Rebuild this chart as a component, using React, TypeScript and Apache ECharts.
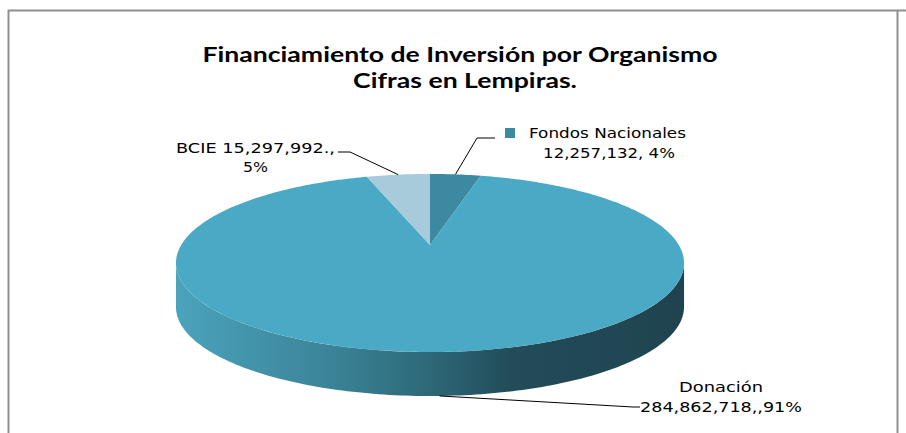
import React, { useEffect, useRef } from 'react';
import * as echarts from 'echarts';

// ---------- data ----------
const titleLines = ['Financiamiento de Inversión por Organismo', 'Cifras en Lempiras.'];
const sliceNames = ['Fondos Nacionales', 'Donación', 'BCIE'];
const sliceValues = [12257132, 284862718, 15297992];
const sliceColors = ['#3b8aa1', '#4aa9c4', '#a7cbda'];
const labelTexts = [
  ['Fondos Nacionales', '12,257,132, 4%'],
  ['Donación', '284,862,718,,91%'],
  ['BCIE 15,297,992.,', '5%'],
];

// ---------- layout ----------
const W = 906;
const H = 433;
const CX = 430; // projected pie centre
const CY = 245;
const XS = 248.8; // horizontal scale
const YS = 85.4; // vertical scale
const K = 0.202; // perspective factor
const DEPTH = 44;

const LABEL_FONT = 'DejaVu Sans';
const LABEL_SIZE = 14;
const labelLayout = [
  {
    lines: [
      { x: 607.5, y: 133, w: 157 },
      { x: 609, y: 153, w: 132 },
    ],
    key: { x: 505, y: 128, s: 10 },
    onSide: false,
    elbow: [477, 138],
    end: [495, 138],
  },
  {
    lines: [
      { x: 721, y: 387, w: 84 },
      { x: 721, y: 407, w: 162 },
    ],
    key: null,
    onSide: true,
    elbow: [633, 407],
    end: [640, 407],
  },
  {
    lines: [
      { x: 255.5, y: 148, w: 159 },
      { x: 255.5, y: 167, w: 25 },
    ],
    key: null,
    onSide: false,
    elbow: [350, 152],
    end: [338, 152],
  },
];

function proj(theta: number, drop = 0): number[] {
  const u = Math.sin(theta);
  const v = Math.cos(theta);
  const s = 1 + K * v;
  return [CX + (XS * u) / s, CY - (YS * v) / s + drop];
}

function arcPoints(a0: number, a1: number, drop = 0): number[][] {
  const n = Math.max(2, Math.ceil(((a1 - a0) * 180) / Math.PI));
  const pts: number[][] = [];
  for (let i = 0; i <= n; i++) pts.push(proj(a0 + ((a1 - a0) * i) / n, drop));
  return pts;
}

let measureCtx: CanvasRenderingContext2D | null = null;
function measure(text: string, font: string): number {
  if (!measureCtx) measureCtx = document.createElement('canvas').getContext('2d');
  if (!measureCtx) return text.length * 7;
  measureCtx.font = font;
  return measureCtx.measureText(text).width;
}

export default function App() {
  const ref = useRef<HTMLDivElement>(null);

  useEffect(() => {
    document.body.style.margin = '0';
    if (!ref.current) return;
    const chart = echarts.init(ref.current, null, { renderer: 'svg' });

    const total = sliceValues.reduce((a, b) => a + b, 0);
    const starts: number[] = [];
    let acc = 0;
    sliceValues.forEach((v) => {
      starts.push(acc);
      acc += v;
    });

    const sideL = Math.acos(-K);
    const sideR = 2 * Math.PI - Math.acos(-K);

    const renderItem = (params: any, api: any) => {
      const i = params.dataIndex;
      const val = api.value(0);
      const a0 = (starts[i] / total) * 2 * Math.PI;
      const a1 = ((starts[i] + val) / total) * 2 * Math.PI;
      const children: any[] = [];

      // visible front side
      const s0 = Math.max(a0, sideL);
      const s1 = Math.min(a1, sideR);
      if (s1 > s0) {
        const top = arcPoints(s0, s1, 0);
        const bottom = arcPoints(s0, s1, DEPTH).reverse();
        children.push({
          type: 'polygon',
          shape: { points: top.concat(bottom) },
          style: {
            fill: new echarts.graphic.LinearGradient(0, 0, 1, 0, [
              { offset: 0, color: '#4ba3bc' },
              { offset: 0.3, color: '#3b8498' },
              { offset: 0.5, color: '#2d6878' },
              { offset: 0.66, color: '#224c58' },
              { offset: 1, color: '#1f4450' },
            ]),
            stroke: null,
          },
        });
      }

      // top face
      const pts = [[CX, CY]].concat(arcPoints(a0, a1, 0));
      children.push({
        type: 'polygon',
        shape: { points: pts },
        style: { fill: sliceColors[i], stroke: null },
      });

      // leader line
      const lay = labelLayout[i];
      const mid = (a0 + a1) / 2;
      const anchor = proj(mid, lay.onSide ? DEPTH : 0);
      children.push({
        type: 'polyline',
        shape: { points: [anchor, lay.elbow, lay.end] },
        style: { stroke: '#000000', lineWidth: 1, fill: null },
      });

      // legend key
      if (lay.key) {
        children.push({
          type: 'rect',
          shape: { x: lay.key.x, y: lay.key.y, width: lay.key.s, height: lay.key.s },
          style: { fill: sliceColors[i] },
        });
      }

      // labels
      labelTexts[i].forEach((t, j) => {
        const L = lay.lines[j];
        const font = `${LABEL_SIZE}px "${LABEL_FONT}"`;
        const sx = L.w / measure(t, font);
        children.push({
          type: 'text',
          x: L.x,
          y: L.y,
          scaleX: sx,
          style: {
            text: t,
            fontFamily: LABEL_FONT,
            fontSize: LABEL_SIZE,
            fill: '#000000',
            textAlign: 'center',
            textVerticalAlign: 'middle',
            align: 'center',
            verticalAlign: 'middle',
          },
        });
      });

      return { type: 'group', children };
    };

    const titleFont = 'bold 21px Lato';
    const titleScale = 516 / measure(titleLines[0], titleFont);
    const titleY = [54, 80];
    const titleX = [460, 465];

    const graphic: any[] = [
      {
        type: 'line',
        shape: { x1: 8, y1: 10.5, x2: W, y2: 10.5 },
        style: { stroke: '#8f8f8f', lineWidth: 2 },
      },
      {
        type: 'line',
        shape: { x1: 8.5, y1: 10, x2: 8.5, y2: H },
        style: { stroke: '#8f8f8f', lineWidth: 2 },
      },
      {
        type: 'line',
        shape: { x1: 897.5, y1: 10, x2: 897.5, y2: H },
        style: { stroke: '#8f8f8f', lineWidth: 2 },
      },
    ];
    titleLines.forEach((t, j) => {
      graphic.push({
        type: 'text',
        x: titleX[j],
        y: titleY[j],
        scaleX: titleScale,
        style: {
          text: t,
          fontFamily: 'Lato',
          fontWeight: 'bold',
          fontSize: 21,
          fill: '#000000',
          textAlign: 'center',
          textVerticalAlign: 'middle',
          align: 'center',
          verticalAlign: 'middle',
        },
      });
    });

    chart.setOption({
      animation: false,
      backgroundColor: '#ffffff',
      graphic,
      series: [
        {
          type: 'custom',
          coordinateSystem: 'none',
          renderItem,
          data: sliceValues.map((v, i) => ({ name: sliceNames[i], value: [v] })),
        },
      ],
    });

    return () => chart.dispose();
  }, []);

  return <div ref={ref} style={{ width: W, height: H }} />;
}
